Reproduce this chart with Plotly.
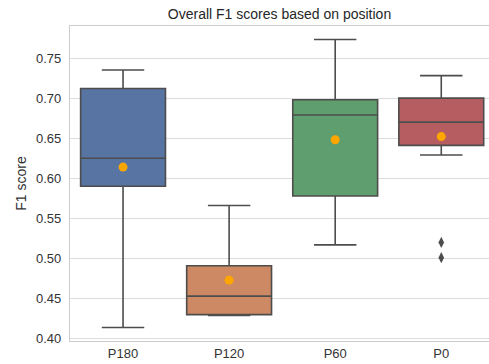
import plotly.graph_objects as go

categories = ["P180", "P120", "P60", "P0"]
q1 = [0.590, 0.430, 0.578, 0.641]
medians = [0.625, 0.453, 0.679, 0.670]
q3 = [0.712, 0.491, 0.698, 0.700]
lower = [0.414, 0.429, 0.517, 0.629]
upper = [0.735, 0.566, 0.773, 0.728]
means = [0.614, 0.473, 0.648, 0.652]
outlier_cats = ["P0", "P0"]
outlier_vals = [0.520, 0.501]
colors = ["#5874a2", "#cc8963", "#5f9e6e", "#b55d60"]

fig = go.Figure()
for i, c in enumerate(categories):
    fig.add_trace(go.Box(
        x=[c], q1=[q1[i]], median=[medians[i]], q3=[q3[i]],
        lowerfence=[lower[i]], upperfence=[upper[i]],
        fillcolor=colors[i], line=dict(color="#4d4d4d", width=1.6),
        width=0.8, whiskerwidth=0.5, boxpoints=False, showlegend=False,
        hoverinfo="skip",
    ))

fig.add_trace(go.Scatter(
    x=outlier_cats, y=outlier_vals, mode="markers",
    marker=dict(symbol="diamond-tall", size=8, color="#4d4d4d"),
    showlegend=False, hoverinfo="skip",
))
fig.add_trace(go.Scatter(
    x=categories, y=means, mode="markers",
    marker=dict(symbol="circle", size=9, color="#ffa500"),
    showlegend=False, hoverinfo="skip",
))

fig.update_layout(
    width=489, height=364,
    margin=dict(l=70, r=0, t=26, b=23, autoexpand=False),
    plot_bgcolor="white", paper_bgcolor="white",
    boxmode="overlay",
    font=dict(family="Liberation Sans, Arial, sans-serif", size=13, color="#333333"),
    title=dict(text="Overall F1 scores based on position", x=0.5, xanchor="center",
               xref="paper", y=1 - 14 / 364, yanchor="middle",
               font=dict(size=14, color="#262626")),
)
fig.update_xaxes(
    type="category", categoryorder="array", categoryarray=categories,
    range=[-0.5, 3.45], showgrid=False, showline=True, linecolor="#cccccc",
    linewidth=1.2, mirror=True, ticks="", tickfont=dict(size=13, color="#333333"),
    automargin=False,
)
fig.update_yaxes(
    range=[0.3971, 0.7899], tickvals=[0.40, 0.45, 0.50, 0.55, 0.60, 0.65, 0.70, 0.75],
    tickformat=".2f", showgrid=True, gridcolor="#dcdcdc", gridwidth=1.2,
    showline=True, linecolor="#cccccc", linewidth=1.2, mirror=True,
    zeroline=False, ticks="", tickfont=dict(size=13, color="#333333"),
    ticklabelstandoff=5, automargin=False,
    title=dict(text="F1 score", font=dict(size=14, color="#333333"), standoff=6),
)

fig.write_html("out.html", config={"displayModeBar": False},
               post_script="document.body.style.margin='0';")
